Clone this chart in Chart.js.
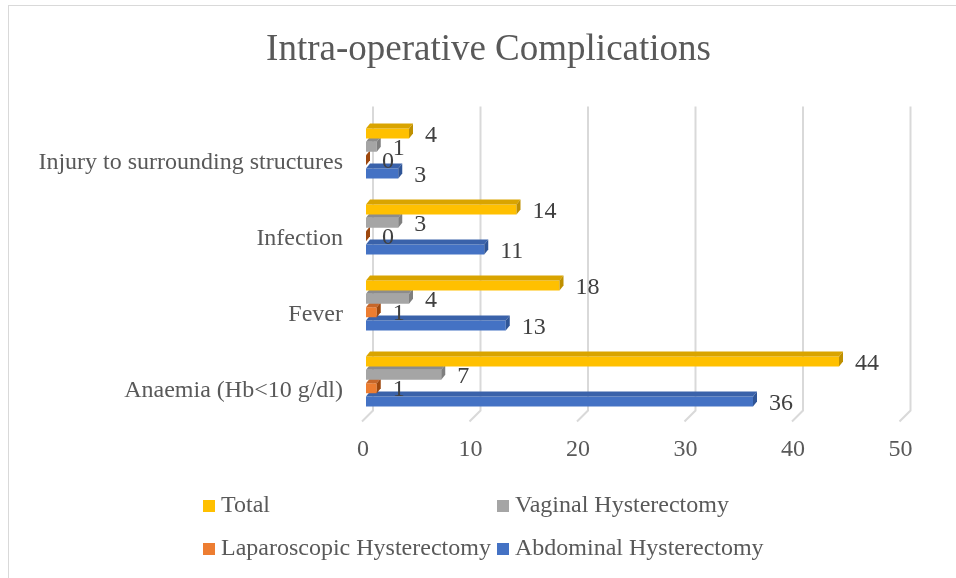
<!DOCTYPE html>
<html>
<head>
<meta charset="utf-8">
<script src="https://cdn.jsdelivr.net/npm/chart.js@4.4.9/dist/chart.umd.min.js"></script>
<style>
  html, body { margin: 0; padding: 0; background: #fff; }
  #wrap { width: 956px; height: 578px; }
</style>
</head>
<body>
<div id="wrap"><canvas id="complicationsChart" width="956" height="578"></canvas></div>
<script>
// 데이터 (위에서 아래 순서)
const chartTitle = 'Intra-operative Complications';
const categories = ['Injury to surrounding structures', 'Infection', 'Fever', 'Anaemia (Hb<10 g/dl)'];
const totalValues = [4, 14, 18, 44];
const vaginalValues = [1, 3, 4, 7];
const laparoscopicValues = [0, 0, 1, 1];
const abdominalValues = [3, 11, 13, 36];
const xTickMin = 0, xTickMax = 50, xTickStep = 10;

// 3D 면 색상 (앞면, 윗면, 옆면)
const faceColors = {
    'Total': ['#FFC000', '#D9A400', '#BF9000'],
    'Vaginal Hysterectomy': ['#A5A5A5', '#8C8C8C', '#7F7F7F'],
    'Laparoscopic Hysterectomy': ['#ED7D31', '#C7672A', '#9E480E'],
    'Abdominal Hysterectomy': ['#4472C4', '#3A62AA', '#2F5597']
};
const DX = 4, DY = 5;
const serif = "'Liberation Serif', 'Times New Roman', serif";

// 배경 + 테두리
const frame = {
    id: 'frame',
    beforeDraw(chart) {
        const c = chart.ctx;
        c.save();
        c.fillStyle = '#fff';
        c.fillRect(0, 0, chart.width, chart.height);
        c.strokeStyle = '#D9D9D9';
        c.lineWidth = 1;
        c.strokeRect(8.5, 5.5, 1200, 1200);
        c.restore();
    }
};

// 제목 (플롯 영역이 아닌 전체 틀 기준으로 가운데 정렬)
const titleText = {
    id: 'titleText',
    afterDraw(chart) {
        const c = chart.ctx;
        c.save();
        c.font = '37px ' + serif;
        c.fillStyle = '#595959';
        c.textAlign = 'center';
        c.textBaseline = 'alphabetic';
        c.fillText(chartTitle, 488.5, 60);
        c.restore();
    }
};

// 3D 느낌의 격자선
const grid3d = {
    id: 'grid3d',
    beforeDatasetsDraw(chart) {
        const c = chart.ctx, x = chart.scales.x, a = chart.chartArea;
        c.save();
        c.strokeStyle = '#D9D9D9';
        c.lineWidth = 2;
        x.ticks.forEach(t => {
            const px = x.getPixelForValue(t.value);
            c.beginPath();
            c.moveTo(px + 7, a.top - 9);
            c.lineTo(px + 7, a.bottom - 9);
            c.lineTo(px - 4, a.bottom + 2);
            c.stroke();
        });
        c.restore();
    }
};

// 막대 윗면/옆면
const bar3d = {
    id: 'bar3d',
    afterDatasetDraw(chart, args) {
        const c = chart.ctx;
        const ds = chart.data.datasets[args.index];
        const cols = faceColors[ds.label];
        c.save();
        args.meta.data.forEach(el => {
            const x0 = el.base, x1 = el.x;
            const top = el.y - el.height / 2, bot = el.y + el.height / 2;
            // 윗면
            c.fillStyle = cols[1];
            c.beginPath();
            c.moveTo(x0, top);
            c.lineTo(x1, top);
            c.lineTo(x1 + DX, top - DY);
            c.lineTo(x0 + DX, top - DY);
            c.closePath();
            c.fill();
            // 옆면
            c.fillStyle = cols[2];
            c.beginPath();
            c.moveTo(x1, top);
            c.lineTo(x1 + DX, top - DY);
            c.lineTo(x1 + DX, bot - DY);
            c.lineTo(x1, bot);
            c.closePath();
            c.fill();
        });
        c.restore();
    }
};

// 값 라벨
const valueLabels = {
    id: 'valueLabels',
    afterDatasetsDraw(chart) {
        const c = chart.ctx;
        c.save();
        c.font = '24px ' + serif;
        c.fillStyle = '#404040';
        c.textAlign = 'left';
        c.textBaseline = 'middle';
        chart.data.datasets.forEach((ds, i) => {
            chart.getDatasetMeta(i).data.forEach((el, j) => {
                c.fillText(String(ds.data[j]), el.x + 16, el.y + 2);
            });
        });
        c.restore();
    }
};

// 범례 (2열)
const legend2col = {
    id: 'legend2col',
    afterDraw(chart) {
        const c = chart.ctx;
        const colX = [203, 497], rowY = [512, 555];
        c.save();
        c.font = '24px ' + serif;
        c.textBaseline = 'alphabetic';
        c.textAlign = 'left';
        chart.data.datasets.forEach((ds, i) => {
            const bx = colX[i % 2], by = rowY[Math.floor(i / 2)];
            c.fillStyle = ds.backgroundColor;
            c.fillRect(bx, by - 12, 12, 12);
            c.fillStyle = '#595959';
            c.fillText(ds.label, bx + 18, by);
        });
        c.restore();
    }
};

const data = {
    labels: categories,
    datasets: [
        { label: 'Total', data: totalValues, backgroundColor: faceColors['Total'][0] },
        { label: 'Vaginal Hysterectomy', data: vaginalValues, backgroundColor: faceColors['Vaginal Hysterectomy'][0] },
        { label: 'Laparoscopic Hysterectomy', data: laparoscopicValues, backgroundColor: faceColors['Laparoscopic Hysterectomy'][0] },
        { label: 'Abdominal Hysterectomy', data: abdominalValues, backgroundColor: faceColors['Abdominal Hysterectomy'][0] }
    ]
};

const options = {
    indexAxis: 'y',
    responsive: false,
    animation: false,
    barPercentage: 0.75,
    categoryPercentage: 0.7,
    layout: { padding: { left: 0, right: 52.5, top: 115.5, bottom: 108.5 } },
    scales: {
        x: {
            min: xTickMin,
            max: xTickMax,
            grid: { display: false },
            border: { display: false },
            ticks: {
                stepSize: xTickStep,
                padding: 8,
                labelOffset: -3,
                color: '#595959',
                font: { family: serif, size: 24 }
            },
            afterFit: s => { s.height = 50; }
        },
        y: {
            grid: { display: false },
            border: { display: false },
            ticks: {
                padding: 15,
                labelOffset: 9,
                color: '#595959',
                font: { family: serif, size: 24 }
            },
            afterFit: s => { s.width = 366; }
        }
    },
    plugins: {
        legend: { display: false },
        tooltip: { enabled: false },
        title: { display: false }
    }
};

new Chart(document.getElementById('complicationsChart'), {
    type: 'bar',
    data,
    options,
    plugins: [frame, titleText, grid3d, bar3d, valueLabels, legend2col]
});
</script>
</body>
</html>
